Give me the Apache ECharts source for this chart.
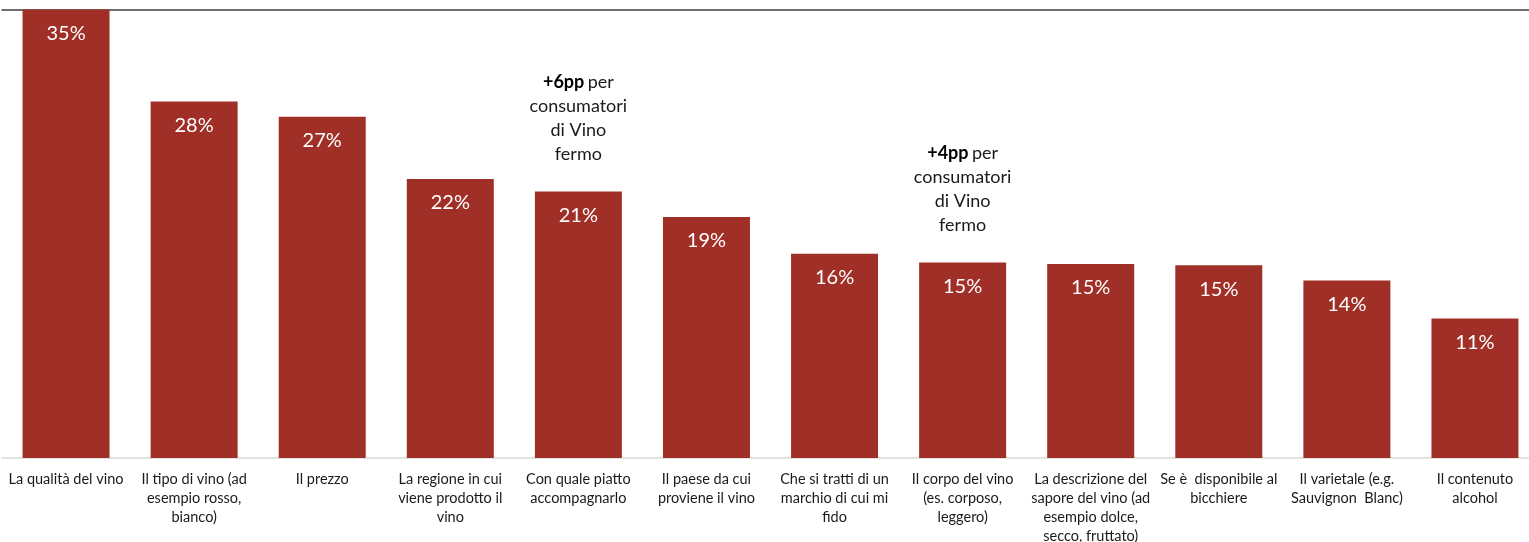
<!DOCTYPE html>
<html>
<head>
<meta charset="utf-8">
<script src="https://cdn.jsdelivr.net/npm/echarts@6/dist/echarts.min.js"></script>
<style>
html,body{margin:0;padding:0;background:#fff}
#main{width:1529px;height:542px}
</style>
</head>
<body>
<div id="main"></div>
<script>
// categorie (asse x), con a capo come nel grafico originale
const categories = [
  'La qualità del vino',
  'Il tipo di vino (ad\nesempio rosso,\nbianco)',
  'Il prezzo',
  'La regione in cui\nviene prodotto il\nvino',
  'Con quale piatto\naccompagnarlo',
  'Il paese da cui\nproviene il vino',
  'Che si tratti di un\nmarchio di cui mi\nfido',
  'Il corpo del vino\n(es. corposo,\nleggero)',
  'La descrizione del\nsapore del vino (ad\nesempio dolce,\nsecco, fruttato)',
  'Se è  disponibile al\nbicchiere',
  'Il varietale (e.g.\nSauvignon  Blanc)',
  'Il contenuto\nalcohol'
]
// valori in %
const values = [35.4, 28.1, 26.9, 22.0, 21.0, 19.0, 16.1, 15.4, 15.3, 15.2, 14.0, 11.0]
// note sopra alcune barre
const noteBold = ['', '', '', '', '+6pp', '', '', '+4pp', '', '', '', '']
const noteText = ['per', 'consumatori', 'di Vino', 'fermo']

const font = 'Lato'
const chart = echarts.init(document.getElementById('main'))
const option = {
  animation: false,
  grid: { left: 2, width: 1537, top: 9.5, bottom: 84, containLabel: false, outerBoundsMode: 'none' },
  xAxis: [
    {
      type: 'category',
      data: categories,
      axisLine: { lineStyle: { color: '#d9d9d9', width: 1.5 } },
      axisTick: { show: false },
      axisLabel: {
        interval: 0, color: '#1a1a1a', fontSize: 14.5, lineHeight: 19,
        margin: 12, fontFamily: font
      }
    },
    {
      type: 'category',
      position: 'top',
      data: categories,
      axisLine: { lineStyle: { color: '#404040', width: 1.5 } },
      axisTick: { show: false },
      axisLabel: { show: false }
    }
  ],
  yAxis: { type: 'value', min: 0, max: 35.35, show: false, splitLine: { show: false } },
  series: [
    {
      type: 'bar',
      data: values,
      barWidth: 87,
      itemStyle: { color: '#a03027' },
      label: {
        show: true, position: 'insideTop', distance: 14,
        color: '#fff', fontSize: 20, fontFamily: font,
        formatter: p => Math.round(p.value) + '%'
      }
    },
    {
      type: 'bar',
      data: values,
      barWidth: 87,
      barGap: '-100%',
      silent: true,
      itemStyle: { color: 'rgba(0,0,0,0)' },
      label: {
        show: true, position: 'top', distance: 25,
        formatter: p => {
          const b = noteBold[p.dataIndex]
          if (!b) return ''
          return '{b|' + b + '} {n|' + noteText[0] + '}\n' +
            noteText.slice(1).map(t => '{n|' + t + '}').join('\n')
        },
        rich: {
          b: { fontSize: 18, fontWeight: 'bold', color: '#000', lineHeight: 24, fontFamily: font },
          n: { fontSize: 18, color: '#1a1a1a', lineHeight: 24, fontFamily: font }
        }
      }
    }
  ]
}
chart.setOption(option)
</script>
</body>
</html>
